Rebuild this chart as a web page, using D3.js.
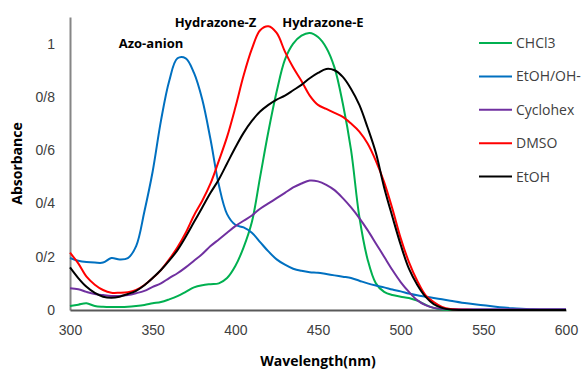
<!DOCTYPE html>
<html>
<head>
<meta charset="utf-8">
<script src="https://cdn.jsdelivr.net/npm/d3@7"></script>
<style>
  body { margin: 0; background: #fff; }
  svg { display: block; font-family: "Open Sans", "Liberation Sans", sans-serif; }
  .line { fill: none; stroke-width: 2; stroke-linejoin: round; }
  .tick text { fill: #404040; font-size: 14px; }
</style>
</head>
<body>
<div id="chart"></div>
<script>
const wavelengths = [300, 305, 310, 315, 320, 325, 330, 335, 340, 345, 350, 355, 360, 365, 370, 375, 380, 385, 390, 395,
  400, 405, 410, 415, 420, 425, 430, 435, 440, 445, 450, 455, 460, 465, 470, 475, 480, 485, 490, 495,
  500, 505, 510, 515, 520, 525, 530, 540, 550, 560, 570, 580, 590, 600];

const chcl3 = [0.015, 0.02, 0.025, 0.015, 0.012, 0.011, 0.011, 0.012, 0.015, 0.019, 0.025, 0.03, 0.04, 0.052, 0.068, 0.085, 0.093, 0.097, 0.1, 0.12,
  0.165, 0.235, 0.33, 0.5, 0.67, 0.82, 0.94, 1.0, 1.03, 1.04, 1.025, 0.985, 0.91, 0.775, 0.6, 0.35, 0.19, 0.1, 0.068, 0.056,
  0.05, 0.045, 0.035, 0.02, 0.008, 0.002, 0, 0, 0, 0, 0, 0, 0, 0];

const etohOh = [0.195, 0.185, 0.18, 0.178, 0.178, 0.195, 0.19, 0.195, 0.24, 0.37, 0.52, 0.71, 0.86, 0.945, 0.945, 0.89, 0.79, 0.64, 0.47, 0.36,
  0.32, 0.31, 0.29, 0.255, 0.22, 0.19, 0.17, 0.155, 0.147, 0.142, 0.14, 0.135, 0.13, 0.125, 0.12, 0.11, 0.1, 0.092, 0.085, 0.077,
  0.07, 0.062, 0.055, 0.05, 0.045, 0.04, 0.035, 0.025, 0.018, 0.01, 0.006, 0.003, 0.002, 0.002];

const cyclohex = [0.082, 0.078, 0.068, 0.06, 0.056, 0.053, 0.053, 0.056, 0.063, 0.072, 0.087, 0.1, 0.12, 0.138, 0.16, 0.185, 0.21, 0.24, 0.265, 0.29,
  0.315, 0.335, 0.355, 0.38, 0.4, 0.42, 0.44, 0.46, 0.475, 0.486, 0.483, 0.47, 0.45, 0.42, 0.385, 0.345, 0.3, 0.25, 0.2, 0.15,
  0.105, 0.068, 0.037, 0.018, 0.008, 0.005, 0.004, 0.003, 0.003, 0.003, 0.003, 0.003, 0.003, 0.003];

const dmso = [0.215, 0.175, 0.125, 0.095, 0.075, 0.065, 0.065, 0.067, 0.075, 0.094, 0.12, 0.15, 0.19, 0.235, 0.29, 0.355, 0.41, 0.475, 0.56, 0.65,
  0.76, 0.88, 0.98, 1.05, 1.065, 1.04, 0.97, 0.91, 0.86, 0.805, 0.77, 0.755, 0.74, 0.725, 0.7, 0.67, 0.625, 0.56, 0.48, 0.38,
  0.27, 0.18, 0.11, 0.056, 0.03, 0.012, 0.004, 0.001, 0, 0, 0, 0, 0, 0];

const etoh = [0.16, 0.12, 0.087, 0.064, 0.05, 0.046, 0.05, 0.06, 0.072, 0.093, 0.12, 0.15, 0.185, 0.225, 0.275, 0.33, 0.385, 0.44, 0.49, 0.55,
  0.61, 0.665, 0.71, 0.745, 0.77, 0.79, 0.805, 0.825, 0.845, 0.87, 0.89, 0.905, 0.9, 0.875, 0.83, 0.77, 0.685, 0.59, 0.46, 0.35,
  0.245, 0.155, 0.095, 0.05, 0.022, 0.008, 0.002, 0, 0, 0, 0, 0, 0, 0];

const seriesNames = ['CHCl3', 'EtOH/OH-', 'Cyclohex', 'DMSO', 'EtOH'];
const seriesColors = ['#00b050', '#0070c0', '#7030a0', '#ff0000', '#000000'];
const seriesValues = [chcl3, etohOh, cyclohex, dmso, etoh];

const xTicks = [300, 350, 400, 450, 500, 550, 600];
const yTicks = [0, 0.2, 0.4, 0.6, 0.8, 1];
const yTickLabels = ['0', '0/2', '0/4', '0/6', '0/8', '1'];

// peak labels, positioned in data units
const peakLabels = ['Azo-anion', 'Hydrazone-Z', 'Hydrazone-E'];
const peakWavelengths = [349, 388, 453];
const peakAbsorbance = [0.985, 1.064, 1.064];

const margin = { top: 17, right: 17, bottom: 60, left: 70 };
const width = 583, height = 370;
const plotW = width - margin.left - margin.right;
const plotH = height - margin.top - margin.bottom;

const svg = d3.select('#chart').append('svg')
  .attr('width', width)
  .attr('height', height);

const g = svg.append('g').attr('transform', `translate(${margin.left},${margin.top})`);

const xScale = d3.scaleLinear().domain([300, 600]).range([0, plotW]);
const yScale = d3.scaleLinear().domain([0, 1.1]).range([plotH, 0]);

const series = seriesNames.map((name, i) => ({
  name: name,
  color: seriesColors[i],
  values: wavelengths.map((w, j) => ({ wl: w, value: seriesValues[i][j] }))
}));

const line = d3.line()
  .curve(d3.curveCatmullRom.alpha(0.5))
  .x(d => xScale(d.wl))
  .y(d => yScale(d.value));

// axes
const yAxis = g.append('g')
  .call(d3.axisLeft(yScale).tickValues(yTicks).tickSize(0).tickPadding(15)
    .tickFormat((d, i) => yTickLabels[i]));
yAxis.select('.domain').attr('stroke', '#868686').attr('stroke-width', 2);

const xAxis = g.append('g')
  .attr('transform', `translate(0,${plotH})`)
  .call(d3.axisBottom(xScale).tickValues(xTicks).tickSize(0).tickPadding(15));
xAxis.select('.domain').attr('stroke', '#595959').attr('stroke-width', 2);

g.selectAll('.series')
  .data(series)
  .enter()
  .append('path')
  .attr('class', 'line')
  .attr('d', d => line(d.values))
  .style('stroke', d => d.color);

g.selectAll('.peak-label')
  .data(peakLabels)
  .enter()
  .append('text')
  .attr('class', 'peak-label')
  .attr('x', (d, i) => xScale(peakWavelengths[i]))
  .attr('y', (d, i) => yScale(peakAbsorbance[i]))
  .attr('text-anchor', 'middle')
  .style('font-size', '13px')
  .style('font-weight', 'bold')
  .text(d => d);

// axis titles
svg.append('text')
  .attr('x', margin.left + plotW / 2)
  .attr('y', height - 4)
  .attr('text-anchor', 'middle')
  .style('font-size', '14px')
  .style('font-weight', 'bold')
  .text('Wavelength(nm)');

svg.append('text')
  .attr('transform', `translate(22,${margin.top + plotH / 2}) rotate(-90)`)
  .attr('text-anchor', 'middle')
  .style('font-size', '14px')
  .style('font-weight', 'bold')
  .text('Absorbance');

// legend
const legend = svg.append('g').attr('transform', 'translate(479,43)');
const items = legend.selectAll('.legend-item')
  .data(series)
  .enter()
  .append('g')
  .attr('class', 'legend-item')
  .attr('transform', (d, i) => `translate(0,${i * 33.4})`);
items.append('line')
  .attr('x1', 0).attr('x2', 33)
  .attr('stroke', d => d.color)
  .attr('stroke-width', 2);
items.append('text')
  .attr('x', 37)
  .attr('dy', '0.35em')
  .style('font-size', '14px')
  .style('fill', '#404040')
  .text(d => d.name);
</script>
</body>
</html>
